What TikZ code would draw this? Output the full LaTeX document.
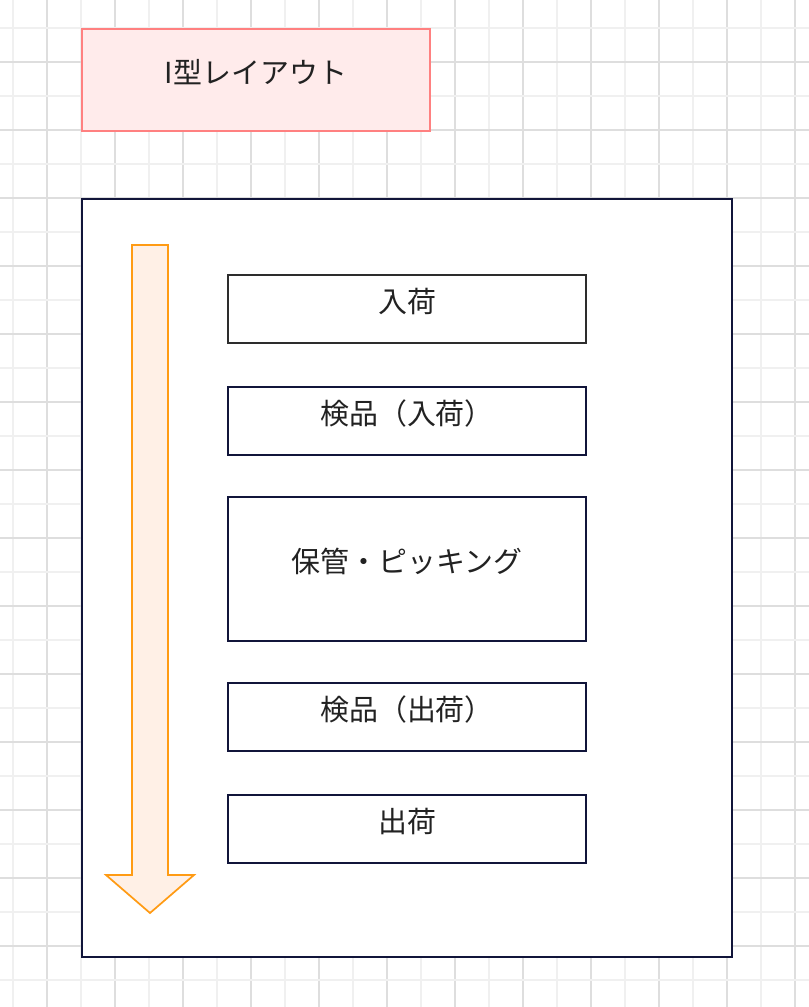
\documentclass[tikz,border=0pt]{standalone}
\usepackage{fontspec}
\setmainfont{Noto Sans CJK JP}
\usetikzlibrary{positioning}
\definecolor{navy}{RGB}{17,21,58}
\definecolor{salmon}{RGB}{255,128,128}
\definecolor{blush}{RGB}{255,235,235}
\definecolor{amber}{RGB}{255,155,20}
\definecolor{peach}{RGB}{255,240,230}
\definecolor{gridlight}{RGB}{240,240,240}
\definecolor{griddark}{RGB}{222,222,222}
\definecolor{ink}{RGB}{34,34,34}
\tikzstyle{label}=[text=ink, font=\fontsize{21.7pt}{26pt}\selectfont, text height=0.75em, text depth=0.3em]
\tikzstyle{title}=[rectangle, draw=salmon, fill=blush, line width=1.1pt, minimum width=261pt, minimum height=76.5pt, label]
\tikzstyle{stage}=[rectangle, draw=navy, fill=white, line width=1.2pt, minimum width=268.5pt, minimum height=51pt, label]
\tikzstyle{frame}=[rectangle, draw=navy, fill=white, line width=1.5pt, minimum width=487.5pt, minimum height=568.5pt]
\tikzstyle{flow}=[draw=amber, fill=peach, line width=1.3pt, line join=miter]

\begin{document}
\begin{tikzpicture}[x=0.75pt, y=-0.75pt]
            \useasboundingbox (0,0) rectangle (809,1007);
            %Background grid, every second line darker
            \foreach \k in {0,...,23}{
                \pgfmathtruncatemacro\odd{mod(\k,2)}
                \ifnum\odd=1 \def\gc{griddark}\else \def\gc{gridlight}\fi
                \draw[\gc, line width=1.1pt] (13+34*\k,0) -- (13+34*\k,1007);
            }
            \foreach \k in {0,...,28}{
                \pgfmathtruncatemacro\odd{mod(\k,2)}
                \ifnum\odd=1 \def\gc{griddark}\else \def\gc{gridlight}\fi
                \draw[\gc, line width=1.1pt] (0,28+34*\k) -- (809,28+34*\k);
            }

            %Heading and outer frame
            \node[title](head) at (256,80){I型レイアウト};
            \node[frame](layout) at (407,578){};

            %Flow direction
            \coordinate (flowtop) at (150,245);
            \coordinate (flowtip) at (150,913);
            \draw[flow] (flowtop) ++(-18,0) -- ++(36,0) -- ++(0,630) -- ++(26,0)
                -- (flowtip) -- ++(-44,-38) -- ++(26,0) -- cycle;

            %Stages from receiving to shipping
            \node[stage, draw=ink!95](recv) at (407,309){入荷};
            \node[stage, below = 31.8pt of recv](check1){検品（入荷）};
            \node[stage, minimum height=108pt, below = 30.3pt of check1](store){保管・ピッキング};
            \node[stage, below = 30.3pt of store](check2){検品（出荷）};
            \node[stage, below = 31.8pt of check2](ship){出荷};
        \end{tikzpicture}
\end{document}
